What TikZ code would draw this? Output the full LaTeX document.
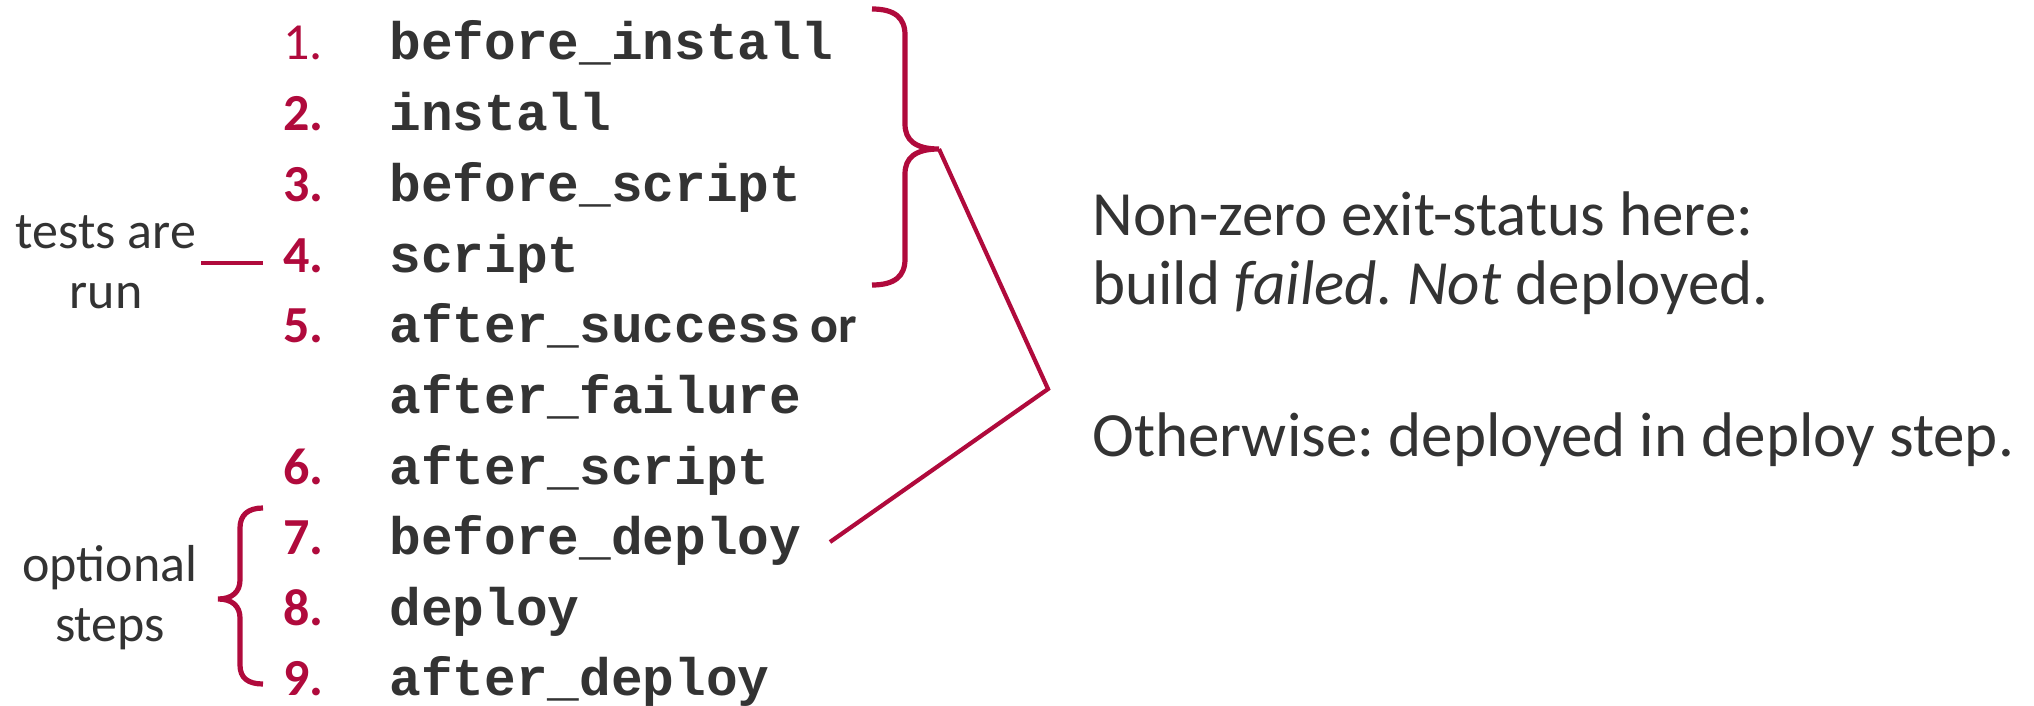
\documentclass[tikz,border=0pt]{standalone}
\usepackage{fontspec}
\usetikzlibrary{calc}
\setmainfont{Carlito}
\setmonofont{Liberation Mono}
\frenchspacing
\definecolor{accent}{RGB}{176,10,60}
\definecolor{ink}{RGB}{51,51,51}
\tikzset{
  num/.style={anchor=base west, text=accent, font=\fontsize{26}{30}\selectfont\bfseries, inner sep=0pt},
  code/.style={anchor=base west, text=ink, font=\fontsize{26.4}{30}\selectfont\ttfamily\bfseries, inner sep=0pt},
  note/.style={align=center, text=ink, font=\fontsize{26}{30}\selectfont, inner sep=0pt},
  remark/.style={anchor=base west, text=ink, font=\fontsize{31.5}{38}\selectfont, inner sep=0pt},
  bracket/.style={draw=accent, line width=2.6pt},
  link/.style={draw=accent, line width=2.1pt, line join=miter},
}
\begin{document}
\begin{tikzpicture}[x=0.5pt, y=-0.5pt]
\useasboundingbox (0,0) rectangle (2034,706);

% numbered build steps
\node[num, font=\fontsize{26}{30}\selectfont] (n1) at (283,60) {1.};
\node[code] (s1) at (389,60) {before\_install};
\node[num] (n2) at (283,131) {2.};
\node[code] (s2) at (389,131) {install};
\node[num] (n3) at (283,201) {3.};
\node[code] (s3) at (389,201) {before\_script};
\node[num] (n4) at (283,272) {4.};
\node[code] (s4) at (389,272) {script};
\node[num] (n5) at (283,342) {5.};
\node[code] (s5) at (389,342) {after\_success};
\node[anchor=base west, text=ink, font=\fontsize{26}{30}\selectfont\bfseries, inner sep=0pt] (or) at ($(s5.base east)+(8,0)$) {or};
\node[code] (s5b) at (389,413) {after\_failure};
\node[num] (n6) at (283,484) {6.};
\node[code] (s6) at (389,484) {after\_script};
\node[num] (n7) at (283,554) {7.};
\node[code] (s7) at (389,554) {before\_deploy};
\node[num] (n8) at (283,625) {8.};
\node[code] (s8) at (389,625) {deploy};
\node[num] (n9) at (283,695) {9.};
\node[code] (s9) at (389,695) {after\_deploy};

% side labels
\node[note] (tests) at (106,262) {tests are\\run};
\node[note] (optional) at (110,598) {optional\\steps};
\coordinate (dashL) at (201,263);
\coordinate (dashR) at (263,263);
\draw[bracket, line width=2.2pt] (dashL) -- (dashR);

% brace over steps 1-4
\coordinate (tip) at (939,149);
\draw[bracket] (872,9) .. controls (895,9) and (905,18) .. (905,35) -- (905,124)
  .. controls (905,140) and (915,149) .. (tip)
  .. controls (915,149) and (905,158) .. (905,174) -- (905,259)
  .. controls (905,276) and (895,285) .. (872,285);

% brace beside steps 7-9
\coordinate (tipB) at (218,599);
\draw[bracket] (263,508) .. controls (248,508) and (240,515) .. (240,528) -- (240,580)
  .. controls (240,592) and (232,599) .. (tipB)
  .. controls (232,599) and (240,606) .. (240,618) -- (240,665)
  .. controls (240,678) and (248,684) .. (263,684);

% pointer to the explanation
\coordinate (vertex) at (1048,389);
\coordinate (bdEnd) at (830,542);
\draw[link] (tip) -- (vertex) -- (bdEnd);

% explanation
\node[remark] (r1) at (1092,235) {Non-zero exit-status here:};
\node[remark] (r2) at (1092,304) {build \textit{failed. Not} deployed.};
\node[remark] (r3) at (1092,456) {Otherwise: deployed in deploy step.};
\end{tikzpicture}
\end{document}
